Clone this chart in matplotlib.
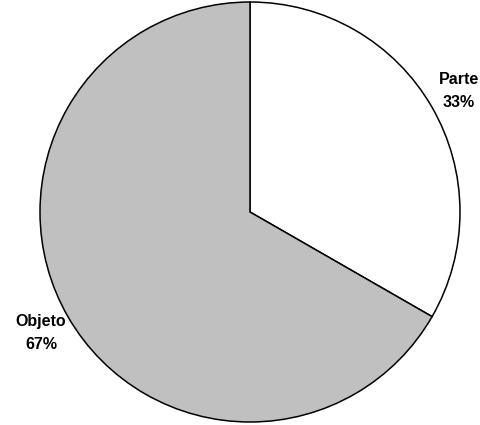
import matplotlib
matplotlib.use("Agg")
import matplotlib.pyplot as plt

categories = ["Parte", "Objeto"]
values = [33.3, 66.7]
colors = ["#ffffff", "#c0c0c0"]

fig = plt.figure(figsize=(4.8, 4.25), dpi=100)
ax = fig.add_axes([0, 0, 1, 1])

labels = [f"{c}\n{round(v)}%" for c, v in zip(categories, values)]
wedges, texts = ax.pie(values, colors=colors, startangle=90, counterclock=False,
                       center=(250, 213), radius=210, labels=labels, labeldistance=1.15,
                       wedgeprops=dict(edgecolor="black", linewidth=1.1),
                       textprops=dict(family="Liberation Sans", fontweight="bold", fontsize=11.5,
                                      linespacing=1.6), frame=True)
ax.set_xlim(0, 480)
ax.set_ylim(0, 425)
ax.set_aspect("equal")
ax.axis("off")
for t in texts:
    t.set_ha("center")
    t.set_va("center")

fig.savefig("out.png", dpi=100)
